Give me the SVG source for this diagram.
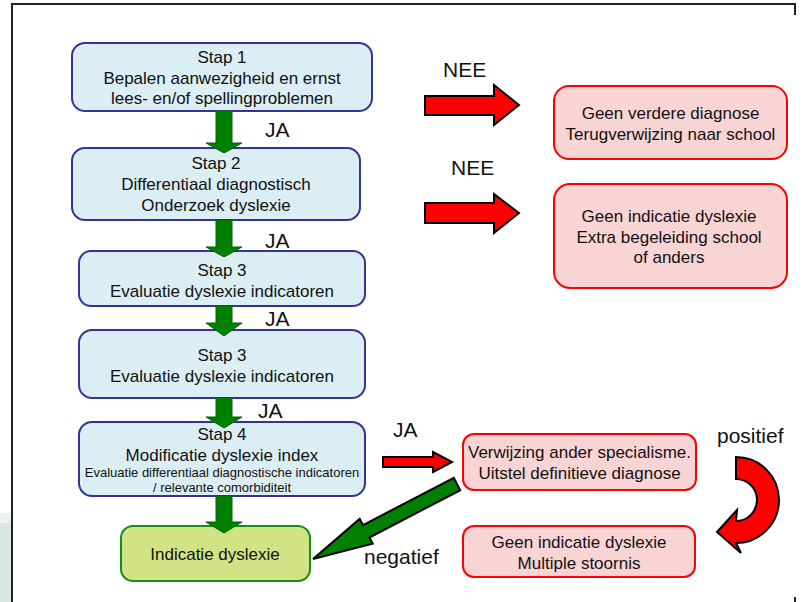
<svg xmlns="http://www.w3.org/2000/svg" width="804" height="602" viewBox="0 0 804 602">
<style>
text{font-family:"Liberation Sans",Arial,sans-serif;fill:#111;text-anchor:middle}
.t{font-size:17px}
.s{font-size:13px}
.lbl{font-size:21px;text-anchor:start}
.blue{fill:#dbeef3;stroke:#333399;stroke-width:2}
.red{fill:#f9d4d4;stroke:#ff0000;stroke-width:2}
.grn{fill:#d1e384;stroke:#1a8a1a;stroke-width:2}
.ga{fill:#008000;stroke:#006400;stroke-width:1}
.ra{fill:#ff0000;stroke:#000;stroke-width:2;stroke-linejoin:miter}
.gd{fill:#008000;stroke:#000;stroke-width:2}
</style>
<rect width="804" height="602" fill="#fff"/>
<rect x="0" y="513" width="11" height="10" fill="#eef3f1"/>
<rect x="0" y="523" width="11" height="79" fill="#dae6e1"/>
<path d="M12 602 L12 4 L795 4 L795 15" fill="none" stroke="#222" stroke-width="2"/>
<path d="M795 597 L795 602" stroke="#222" stroke-width="2"/>

<g id="stap1"><rect class="blue" x="72" y="43" width="300" height="68" rx="13"/>
<text class="t" x="222" y="63">Stap 1</text>
<text class="t" x="222" y="84">Bepalen aanwezigheid en ernst</text>
<text class="t" x="222" y="104">lees- en/of spellingproblemen</text></g>

<g id="stap2"><rect class="blue" x="72" y="148" width="288" height="72" rx="13"/>
<text class="t" x="216" y="169">Stap 2</text>
<text class="t" x="216" y="190">Differentiaal diagnostisch</text>
<text class="t" x="216" y="211">Onderzoek dyslexie</text></g>

<g id="stap3a"><rect class="blue" x="79" y="251" width="286" height="55" rx="12"/>
<text class="t" x="222" y="276">Stap 3</text>
<text class="t" x="222" y="297">Evaluatie dyslexie indicatoren</text></g>

<g id="stap3b"><rect class="blue" x="79" y="330" width="286" height="68" rx="13"/>
<text class="t" x="222" y="361">Stap 3</text>
<text class="t" x="222" y="382">Evaluatie dyslexie indicatoren</text></g>

<g id="stap4"><rect class="blue" x="79" y="422" width="286" height="74" rx="13"/>
<text class="t" x="222" y="440">Stap 4</text>
<text class="t" x="222" y="461">Modificatie dyslexie index</text>
<text class="s" x="222" y="477">Evaluatie differentiaal diagnostische indicatoren</text>
<text class="s" x="222" y="492">/ relevante comorbiditeit</text></g>

<g id="indicatie"><rect class="grn" x="121" y="526" width="189" height="55" rx="12"/>
<text class="t" x="215" y="560">Indicatie dyslexie</text></g>

<g id="geenverdere"><rect class="red" x="554" y="86" width="233" height="73" rx="15"/>
<text class="t" x="670.5" y="119">Geen verdere diagnose</text>
<text class="t" x="670.5" y="140">Terugverwijzing naar school</text></g>

<g id="geenindicatie"><rect class="red" x="554" y="184" width="233" height="104" rx="16"/>
<text class="t" x="669" y="222">Geen indicatie dyslexie</text>
<text class="t" x="669" y="243">Extra begeleiding school</text>
<text class="t" x="669" y="263">of anders</text></g>

<g id="verwijzing"><rect class="red" x="463" y="434" width="233" height="56" rx="11"/>
<text class="t" x="579.5" y="458">Verwijzing ander specialisme.</text>
<text class="t" x="579.5" y="479">Uitstel definitieve diagnose</text></g>

<g id="multiple"><rect class="red" x="463" y="526" width="232" height="51" rx="11"/>
<text class="t" x="579" y="548">Geen indicatie dyslexie</text>
<text class="t" x="579" y="569">Multiple stoornis</text></g>

<g id="connectors">
<path class="ga" d="M216 111 L232 111 L232 143 L242 143 L224 153 L206 143 L216 143 Z"/>
<path class="ga" d="M216 220 L232 220 L232 247 L242 247 L224 257 L206 247 L216 247 Z"/>
<path class="ga" d="M216 306 L232 306 L232 323 L242 323 L224 336 L206 323 L216 323 Z"/>
<path class="ga" d="M216 398 L232 398 L232 417 L242 417 L224 428 L206 417 L216 417 Z"/>
<path class="ga" d="M216 496 L232 496 L232 522 L242 522 L224 533 L206 522 L216 522 Z"/>
<path class="ra" d="M425 96 L494 96 L494 85 L519 105 L494 125 L494 115 L425 115 Z"/>
<path class="ra" d="M425 203 L494 203 L494 194 L519 213 L494 233 L494 223 L425 223 Z"/>
<path class="ra" d="M383 457 L433 457 L433 452 L452 462 L433 472 L433 467 L383 467 Z"/>
<path class="gd" d="M453.8 477.8 L363 525.1 L359.7 518.9 L313 559 L372.7 543.7 L369.4 537.5 L460.2 490.2 Z"/>
<path class="ra" d="M736 457 A43 43 0 0 1 736 543 L741 553 L717 532 L737 510 L736 521 A21 21 0 0 0 736 479 Z"/>
<text class="lbl" x="265" y="137">JA</text>
<text class="lbl" x="265" y="248">JA</text>
<text class="lbl" x="265" y="326">JA</text>
<text class="lbl" x="258" y="418">JA</text>
<text class="lbl" x="443" y="77">NEE</text>
<text class="lbl" x="451" y="175">NEE</text>
<text class="lbl" x="393" y="437">JA</text>
<text class="lbl" x="717" y="443">positief</text>
<text class="lbl" x="364" y="564">negatief</text>
</g>
</svg>
